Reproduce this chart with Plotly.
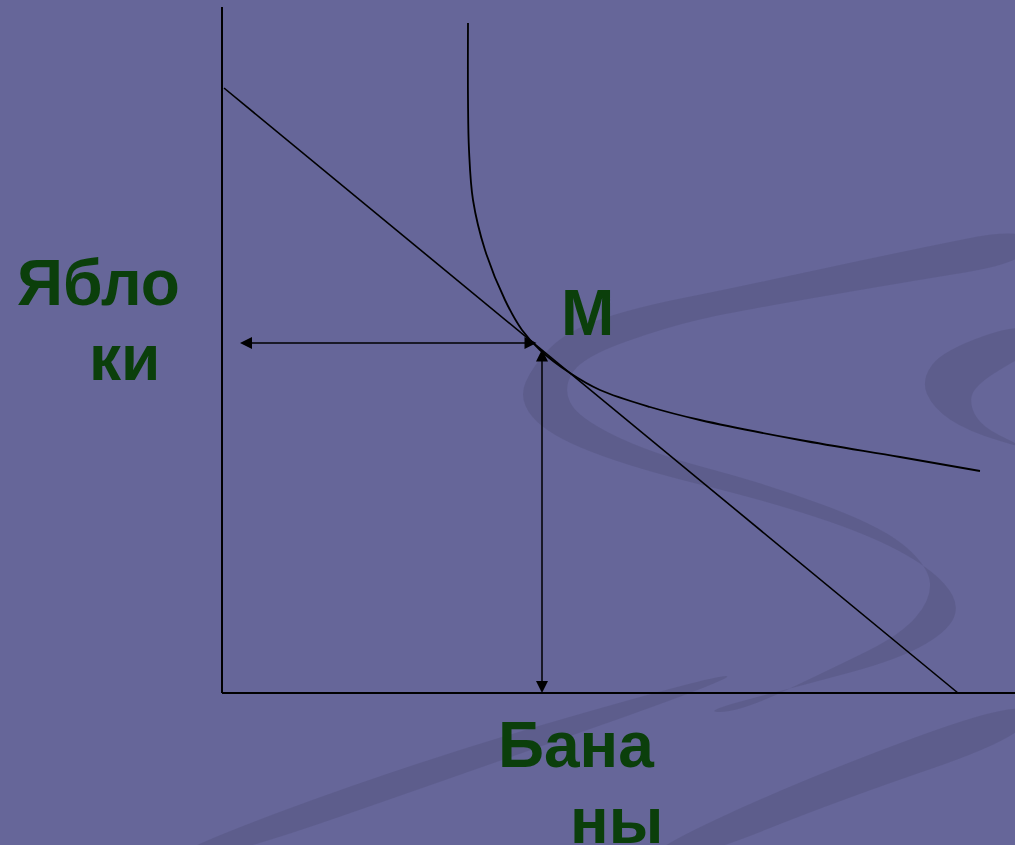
import plotly.graph_objects as go

# --- data (economic units; origin at the corner of the axes) ---
budget_bananas = [2, 736]
budget_apples = [605, 0]

indiff_bananas = [246, 246, 247, 251, 263, 283, 300, 318, 348, 378, 428, 478, 578, 678, 758]
indiff_apples = [670, 593, 543, 493, 443, 393, 363, 343, 320, 303, 286, 273, 253, 236, 222]

m_bananas = 320
m_apples = 350
axis_top = 686
axis_right = 800

label_apples = ["Ябло", "ки"]
label_bananas = ["Бана", "ны"]
label_point = "M"

BG = "#666699"
SWOOSH = "#5b5b88"
TEXT = "#0b3f0b"
FONT = "Liberation Sans"

# page pixels -> data units (only used for the decorative background)
X0, Y0 = 222, 693


def to_data(pts):
    return [(px - X0, Y0 - py) for px, py in pts]


def smooth_path(pts, closed=True):
    p = to_data(pts)
    n = len(p)
    mid = lambda a, b: ((a[0] + b[0]) / 2, (a[1] + b[1]) / 2)
    s = "M {:.1f},{:.1f} ".format(*mid(p[-1], p[0]) if closed else p[0])
    rng = range(n) if closed else range(1, n - 1)
    for i in rng:
        c = p[i]
        e = mid(p[i], p[(i + 1) % n])
        s += "Q {:.1f},{:.1f} {:.1f},{:.1f} ".format(c[0], c[1], e[0], e[1])
    return s + "Z"


swooshes = [
    # big S band
    [(1030, 226), (900, 252), (733, 288), (633, 308), (567, 331), (533, 365), (518, 400),
     (548, 435), (633, 468), (767, 501), (867, 534), (929, 567), (959, 600), (951, 629),
     (900, 659), (800, 686), (700, 712), (740, 712), (833, 668), (900, 635), (931, 600),
     (929, 567), (883, 527), (767, 484), (650, 453), (577, 417), (563, 387), (583, 357),
     (667, 327), (733, 312), (900, 283), (1030, 262)],
    # right crescent
    [(1030, 320), (943, 350), (921, 380), (933, 408), (967, 431), (1030, 450),
     (1015, 443), (983, 427), (970, 407), (973, 387), (1015, 360), (1030, 355)],
    # lower bands
    [(150, 860), (420, 760), (712, 676), (740, 676), (460, 775), (215, 860)],
    [(630, 860), (800, 780), (1030, 695), (1030, 735), (840, 800), (690, 860)],
]

fig = go.Figure()

fig.add_trace(go.Scatter(
    x=budget_bananas, y=budget_apples, mode="lines",
    line=dict(color="black", width=1.6), hoverinfo="skip",
))
fig.add_trace(go.Scatter(
    x=indiff_bananas, y=indiff_apples, mode="lines",
    line=dict(color="black", width=1.8, shape="spline", smoothing=1.0), hoverinfo="skip",
))

shapes = [
    dict(type="path", path=smooth_path(s), fillcolor=SWOOSH, line_width=0,
         layer="below", xref="x", yref="y", opacity=0.75)
    for s in swooshes
]
shapes += [
    dict(type="line", x0=0, y0=0, x1=0, y1=axis_top, xref="x", yref="y",
         line=dict(color="black", width=2)),
    dict(type="line", x0=0, y0=0, x1=axis_right, y1=0, xref="x", yref="y",
         line=dict(color="black", width=2)),
]

arrow = dict(showarrow=True, arrowhead=2, arrowsize=1.6, arrowwidth=1.5,
             arrowcolor="black", arrowside="end+start", standoff=0, startstandoff=0,
             axref="x", ayref="y", text="")
annotations = [
    dict(x=18, y=m_apples, ax=m_bananas - 4, ay=m_apples, **arrow),
    dict(x=m_bananas, y=0, ax=m_bananas, ay=m_apples - 5, **arrow),
]

txt = dict(showarrow=False, xref="x", yref="y", xanchor="center", yanchor="middle",
           font=dict(family=FONT, size=64, color=TEXT, weight="bold"))
annotations += [
    dict(text=label_apples[0], x=-124, y=410, **txt),
    dict(text=label_apples[1], x=-98, y=335, **txt),
    dict(text=label_point, x=365, y=380, **txt),
    dict(text=label_bananas[0], x=354, y=-52, **txt),
    dict(text=label_bananas[1], x=394, y=-128, **txt),
]

fig.update_layout(
    width=1015, height=845,
    margin=dict(l=0, r=0, t=0, b=0),
    paper_bgcolor=BG, plot_bgcolor=BG,
    showlegend=False,
    xaxis=dict(range=[-X0, 1015 - X0], visible=False, fixedrange=True),
    yaxis=dict(range=[Y0 - 845, Y0], visible=False, fixedrange=True),
    shapes=shapes,
    annotations=annotations,
)

# drop the browser's default page margin so the figure fills the window
fig.write_html(
    "out.html",
    config={"displayModeBar": False},
    post_script="document.body.style.margin='0';document.body.style.overflow='hidden';",
)
